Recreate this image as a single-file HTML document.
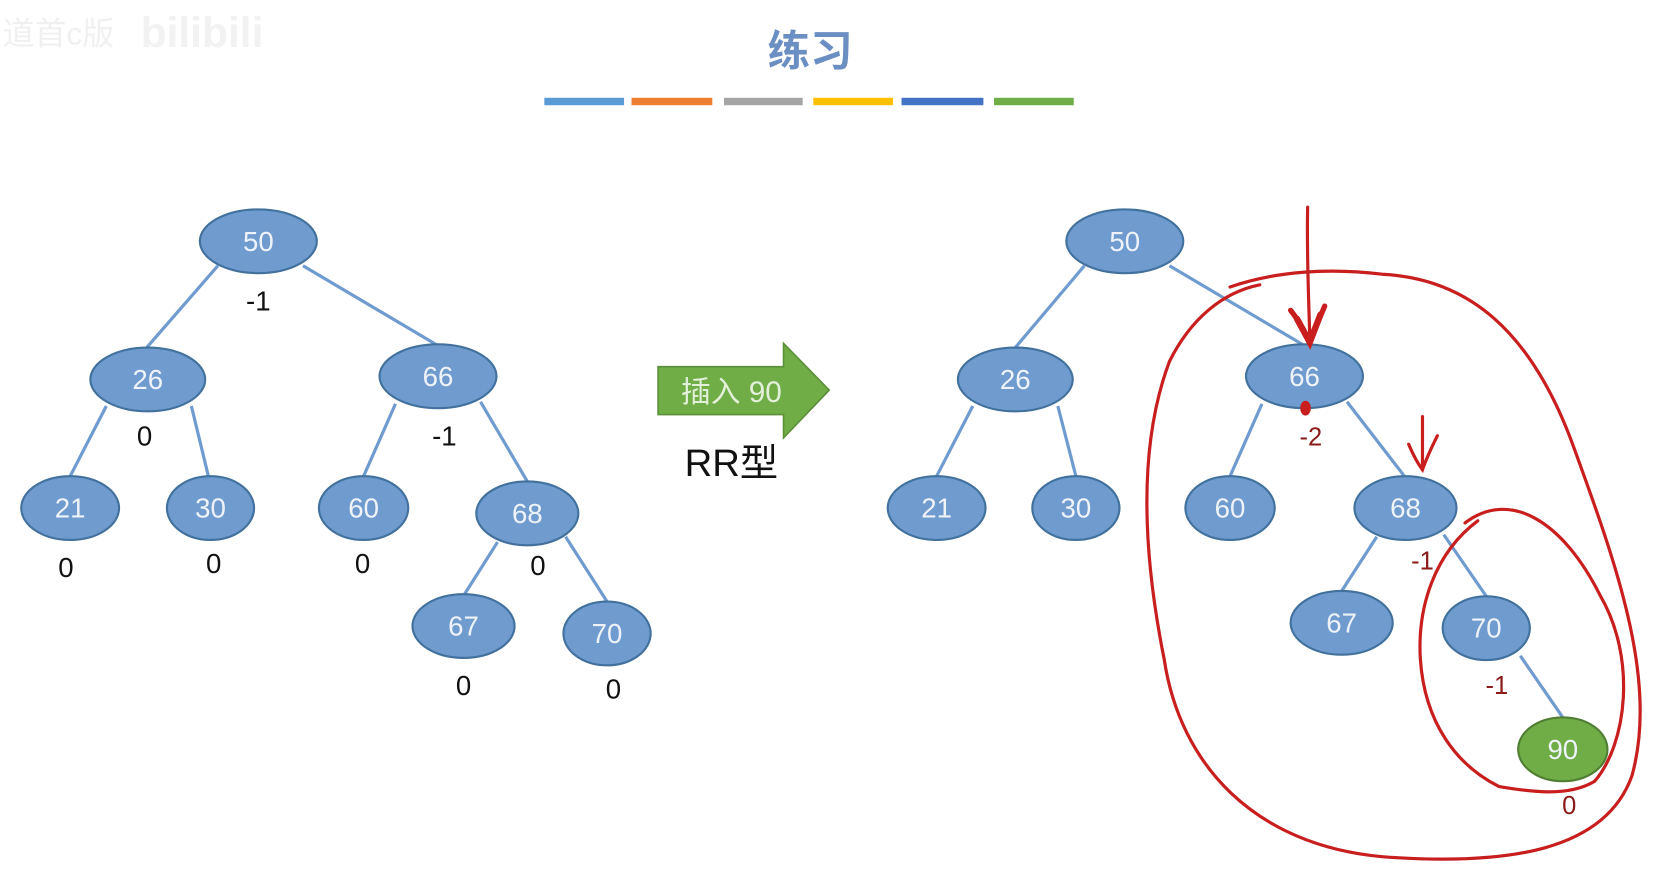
<!DOCTYPE html>
<html><head><meta charset="utf-8"><style>
html,body{margin:0;padding:0;background:#fff;}
svg{display:block;}
text{font-family:"Liberation Sans","Noto Sans CJK SC",sans-serif;}
</style></head><body>
<svg width="1667" height="879" viewBox="0 0 1568 827" preserveAspectRatio="none">
<text x="55" y="42" font-size="30" fill="#f0f0f0" text-anchor="middle">道首c版</text>
<text x="190" y="44" font-size="40" font-weight="bold" fill="#f2f2f2" text-anchor="middle">bilibili</text>
<text x="762" y="62" font-size="40" font-weight="bold" fill="#6b8fc2" text-anchor="middle" font-family="Noto Sans CJK SC, sans-serif">练习</text>
<g>
<rect x="512" y="92" width="75" height="7" fill="#5b9bd5"/>
<rect x="594" y="92" width="76" height="7" fill="#ed7d31"/>
<rect x="681" y="92" width="74" height="7" fill="#a5a5a5"/>
<rect x="765" y="92" width="75" height="7" fill="#ffc000"/>
<rect x="848" y="92" width="77" height="7" fill="#4472c4"/>
<rect x="935" y="92" width="75" height="7" fill="#70ad47"/>
</g>
<g stroke="#6f9bcf" stroke-width="3">
<line x1="205" y1="250" x2="138" y2="327"/><line x1="285" y1="250" x2="410" y2="324"/>
<line x1="100" y1="382" x2="66" y2="448"/><line x1="180" y1="382" x2="196" y2="448"/>
<line x1="372" y1="380" x2="342" y2="448"/><line x1="452" y1="378" x2="496" y2="453"/>
<line x1="468" y1="510" x2="437" y2="559"/><line x1="532" y1="505" x2="571" y2="566"/>
<line x1="1020" y1="250" x2="955" y2="327"/><line x1="1100" y1="250" x2="1225" y2="324"/>
<line x1="915" y1="382" x2="881" y2="448"/><line x1="995" y1="382" x2="1012" y2="448"/>
<line x1="1187" y1="380" x2="1157" y2="448"/><line x1="1267" y1="378" x2="1321" y2="448"/>
<line x1="1295" y1="505" x2="1262" y2="556"/><line x1="1358" y1="503" x2="1398" y2="561"/>
<line x1="1430" y1="617" x2="1470" y2="675"/>
</g>
<g fill="#6f9bcf" stroke="#41719c" stroke-width="2">
<ellipse cx="243" cy="227" rx="55" ry="30"/><ellipse cx="139" cy="357" rx="54" ry="30"/>
<ellipse cx="412" cy="354" rx="55" ry="30"/><ellipse cx="66" cy="478" rx="46" ry="30"/>
<ellipse cx="198" cy="478" rx="41" ry="30"/><ellipse cx="342" cy="478" rx="42" ry="30"/>
<ellipse cx="496" cy="483" rx="48" ry="30"/><ellipse cx="436" cy="589" rx="48" ry="30"/>
<ellipse cx="571" cy="596" rx="41" ry="30"/>
<ellipse cx="1058" cy="227" rx="55" ry="30"/><ellipse cx="955" cy="357" rx="54" ry="30"/>
<ellipse cx="1227" cy="354" rx="55" ry="30"/><ellipse cx="881" cy="478" rx="46" ry="30"/>
<ellipse cx="1012" cy="478" rx="41" ry="30"/><ellipse cx="1157" cy="478" rx="42" ry="30"/>
<ellipse cx="1322" cy="478" rx="48" ry="30"/><ellipse cx="1262" cy="586" rx="48" ry="30"/>
<ellipse cx="1398" cy="591" rx="41" ry="30"/>
<ellipse cx="1470" cy="705" rx="42" ry="30" fill="#70ad47" stroke="#507e32"/>
</g>
<g fill="#eef3fa" font-size="26" text-anchor="middle">
<text x="243" y="236">50</text><text x="139" y="366">26</text><text x="412" y="363">66</text>
<text x="66" y="487">21</text><text x="198" y="487">30</text><text x="342" y="487">60</text>
<text x="496" y="492">68</text><text x="436" y="598">67</text><text x="571" y="605">70</text>
<text x="1058" y="236">50</text><text x="955" y="366">26</text><text x="1227" y="363">66</text>
<text x="881" y="487">21</text><text x="1012" y="487">30</text><text x="1157" y="487">60</text>
<text x="1322" y="487">68</text><text x="1262" y="595">67</text><text x="1398" y="600">70</text>
<text x="1470" y="714">90</text>
</g>
<g fill="#111" font-size="26" text-anchor="middle">
<text x="243" y="292">-1</text><text x="136" y="419">0</text><text x="418" y="419">-1</text>
<text x="62" y="543">0</text><text x="201" y="539">0</text><text x="341" y="539">0</text>
<text x="506" y="541">0</text><text x="436" y="654">0</text><text x="577" y="657">0</text>
</g>
<g font-size="24" text-anchor="middle">
<text x="1233" y="419" fill="#8b1a1a">-2</text>
<text x="1338" y="536" fill="#8b1a1a">-1</text>
<text x="1408" y="653" fill="#8b1a1a">-1</text>
<text x="1476" y="766" fill="#8b1a1a">0</text>
</g>
<polygon points="619,345 737,345 737,323 780,367 737,412 737,390 619,390" fill="#70ad47" stroke="#5a8f38" stroke-width="1.5"/>
<text x="688" y="378" font-size="28" fill="#e2f0d9" text-anchor="middle">插入 90</text>
<text x="688" y="448" font-size="36" fill="#111" text-anchor="middle">RR型</text>
<g fill="none" stroke="#c81e1e" stroke-width="3" stroke-linecap="round">
<path d="M1157,270 C1200,255 1250,252 1300,258 C1380,262 1440,310 1480,420 C1520,530 1560,640 1535,730 C1510,800 1420,815 1300,806 C1180,795 1110,720 1095,620 C1075,520 1070,420 1100,340 C1120,300 1150,275 1185,268"/>
<path d="M1378,492 C1420,460 1470,490 1505,560 C1540,620 1530,700 1500,735 C1475,750 1440,745 1410,740 C1370,720 1340,680 1336,620 C1333,570 1350,520 1390,490"/>
<path d="M1230,195 C1229,240 1231,280 1232,318"/>
<path d="M1214,292 C1222,302 1227,312 1232,322 C1236,310 1242,298 1246,288" stroke-width="5"/>
<path d="M1220,300 L1232,322 L1242,296" stroke-width="6"/>
<path d="M1338,392 C1338,410 1338,425 1338,440 M1325,418 C1330,430 1335,438 1338,442 C1342,430 1347,420 1352,410"/>
</g>
<ellipse cx="1228" cy="384" rx="5" ry="7" fill="#c81e1e"/>
</svg>
</body></html>
